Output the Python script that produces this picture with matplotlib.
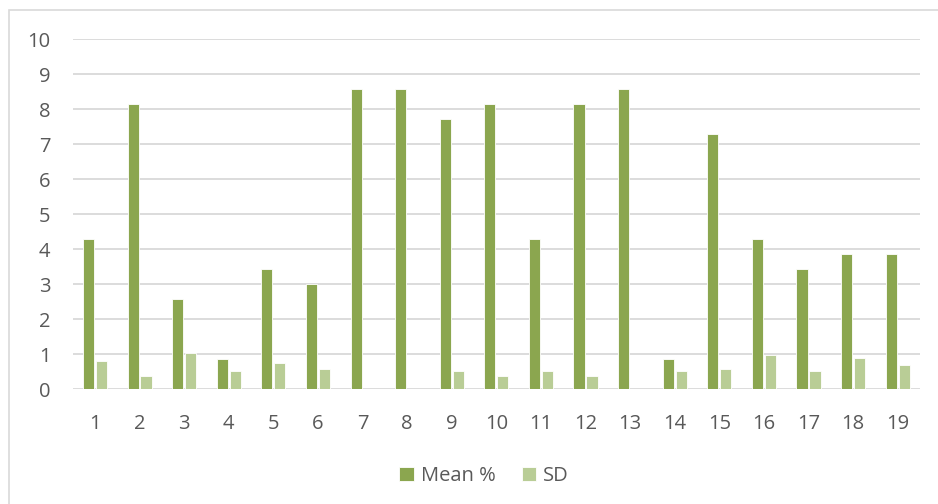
import matplotlib
matplotlib.use("Agg")
import matplotlib.pyplot as plt
from matplotlib.patches import Rectangle
import numpy as np

plt.rcParams['font.family'] = ['Open Sans', 'DejaVu Sans']

items = [str(i) for i in range(1, 20)]
mean_pct = [4.29, 8.14, 2.57, 0.86, 3.43, 3.0, 8.57, 8.57, 7.71, 8.14,
            4.29, 8.14, 8.57, 0.86, 7.29, 4.29, 3.43, 3.86, 3.86]
sd = [0.8, 0.37, 1.02, 0.51, 0.76, 0.57, 0, 0, 0.51, 0.37,
      0.51, 0.37, 0, 0.51, 0.57, 0.98, 0.51, 0.89, 0.68]

green = "#8ba64f"
light_green = "#b9cd96"
txt = "#595959"

fig = plt.figure(figsize=(9.38, 5.04), dpi=100)
ax = fig.add_axes([0.0775, 0.228, 0.9033, 0.694])

# chart area border (runs off the right and bottom of the picture)
fig.patches.append(Rectangle((8.5 / 938, -0.05), 1.0, 1 - 9.5 / 504 + 0.05,
                             transform=fig.transFigure, fill=False,
                             edgecolor="#d9d9d9", linewidth=1.2))

x = np.arange(1, len(items) + 1)
w = 0.25
ax.bar(x - 0.145, mean_pct, w, color=green, edgecolor="white", linewidth=0.6,
       label="Mean %", zorder=3)
ax.bar(x + 0.145, sd, w, color=light_green, edgecolor="white", linewidth=0.6,
       label="SD", zorder=3)

ax.set_xlim(0.5, len(items) + 0.5)
ax.set_ylim(0, 10)
ax.set_yticks(range(0, 11))
ax.set_xticks(x)
ax.set_xticklabels(items)
ax.yaxis.grid(True, color="#d9d9d9", linewidth=1.3)
ax.set_axisbelow(True)
for s in ax.spines.values():
    s.set_visible(False)
ax.tick_params(axis="both", length=0, labelsize=14.5, labelcolor=txt)
ax.tick_params(axis="y", pad=16)
ax.tick_params(axis="x", pad=18)

fig.legend(loc="center", bbox_to_anchor=(0.516, 0.056), ncol=2, frameon=False,
           fontsize=14.5, labelcolor=txt, handlelength=0.72, handleheight=0.72,
           handletextpad=0.35, columnspacing=1.3)

fig.savefig("out.png", dpi=100)
